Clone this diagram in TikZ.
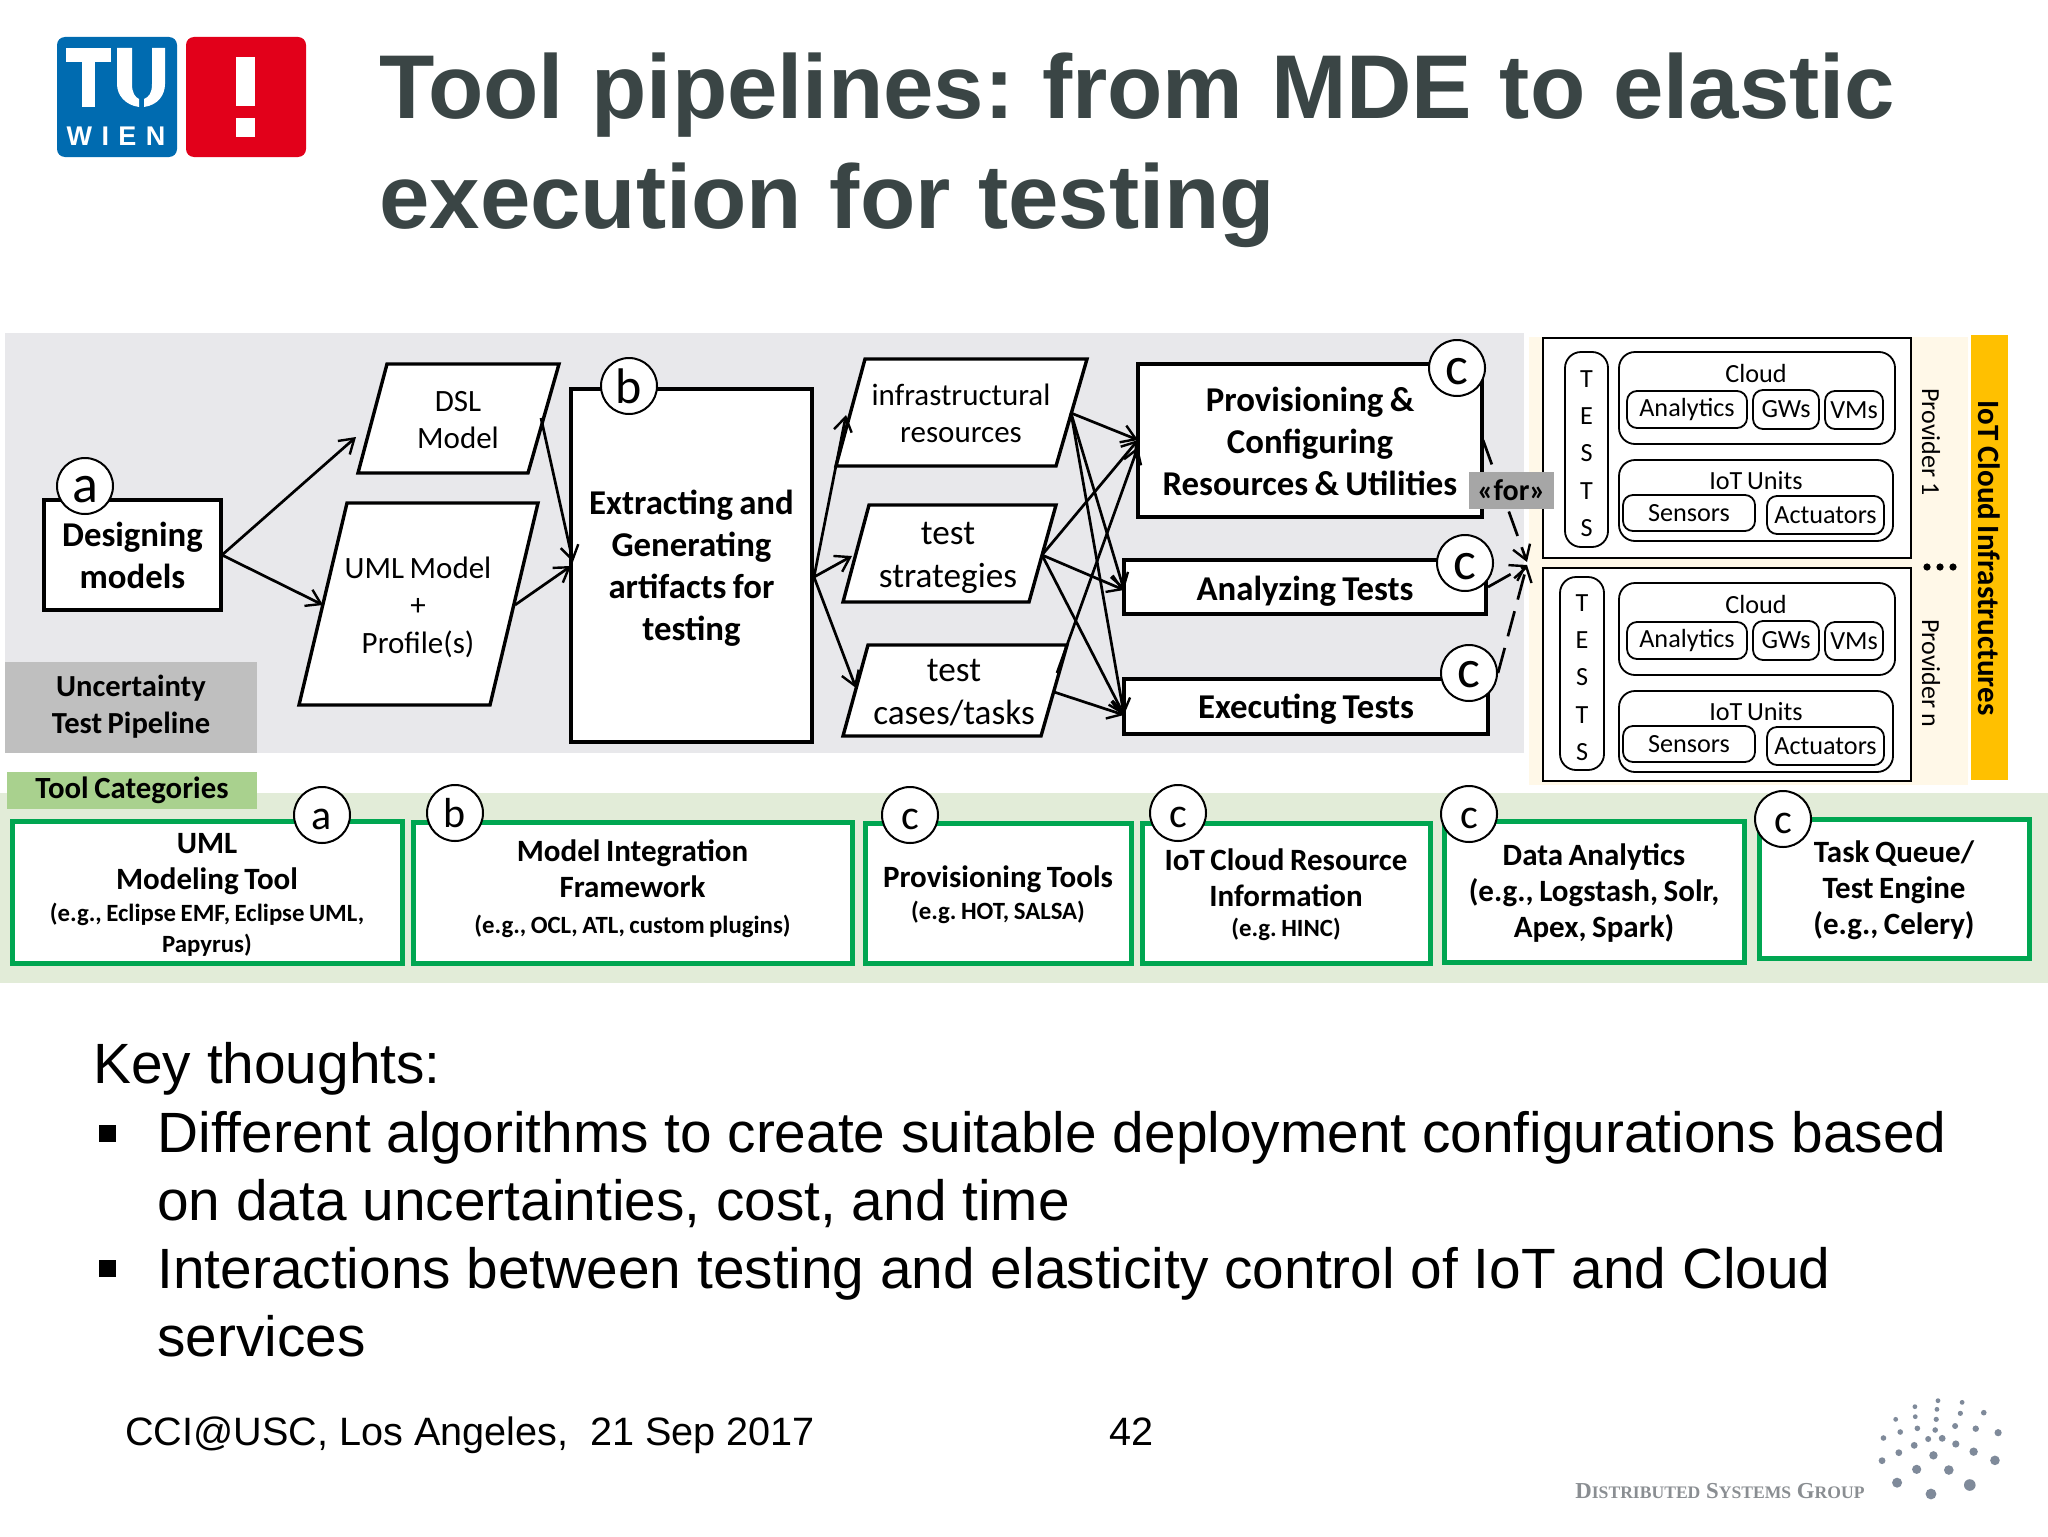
\documentclass[tikz,border=0pt]{standalone}
\usepackage{fontspec}
\setmainfont[WordSpace=0.8]{Carlito}
\newfontfamily\arial{Liberation Sans}
\newfontfamily\tms{Liberation Serif}
\usetikzlibrary{arrows.meta,calc}
\definecolor{bggray}{HTML}{E8E8EB}
\definecolor{labgray}{HTML}{BFBFBF}
\definecolor{forgray}{HTML}{A6A6A6}
\definecolor{labgreen}{HTML}{A9D18E}
\definecolor{bggreen}{HTML}{E2ECD8}
\definecolor{boxgreen}{HTML}{00A651}
\definecolor{cream}{HTML}{FFF8E8}
\definecolor{orangebar}{HTML}{FFC000}
\definecolor{tublue}{HTML}{006BB0}
\definecolor{tured}{HTML}{E2001A}
\definecolor{titlecol}{HTML}{3A4545}
\definecolor{dsg}{HTML}{8A8E92}
\definecolor{dsgdot}{HTML}{7F8A9A}
\newcommand\fs[2]{\fontsize{#1}{#2}\selectfont}
\newcommand\bx[5][]{%
  \path let \p1=(#3), \p2=(#4) in
    node[#1,minimum width={abs(\x2-\x1)},minimum height={abs(\y2-\y1)},inner sep=0pt,align=center]
    (#2) at ($(#3)!.5!(#4)$) {#5};}
% box with its text moved by a vertical offset: style, name, corners, offset, text style, text
\newcommand\bxt[7][]{%
  \bx[#1]{#2}{#3}{#4}{}
  \node[inner sep=0pt,align=center,#6] (#2-t) at ($(#2.center)+(0,#5)$) {#7};}
% letter lowered inside its badge: drop, box height, letter
\newcommand\lowr[3]{\raisebox{-#1}[#2][0pt]{#3}}
\tikzset{
  x=0.5pt,y=-0.5pt,
  every node/.append style={execute at begin node=\frenchspacing},
  flow/.style={draw=black,line width=1.8pt,fill=white},
  para/.style={draw=black,line width=1.7pt,fill=white,line join=miter},
  bflow/.style={font=\bfseries\fs{17.4}{21}},
  ptext/.style={font=\fs{15.5}{18.5},align=center,inner sep=0pt},
  badge/.style={circle,draw=black,line width=1pt,fill=white,minimum size=28pt,inner sep=0pt,font=\fs{27}{27}},
  tbadge/.style={circle,draw=black,line width=1pt,fill=white,minimum size=28pt,inner sep=0pt,font=\fs{21}{21}},
  arr/.style={draw=black,line width=1.35pt,-{Straight Barb[length=7pt,width=9pt,line width=1.2pt]}},
  darr/.style={arr,dash pattern=on 13pt off 6pt},
  tool/.style={draw=boxgreen,line width=2.5pt,fill=white},
  ttext/.style={font=\bfseries\fs{15.5}{18}},
  outer/.style={draw=black,line width=1.1pt,fill=white},
  rbox/.style={draw=black,line width=0.9pt,fill=white,rounded corners=8pt},
  ibox/.style={draw=black,line width=0.9pt,fill=white,rounded corners=5pt,font=\fs{13.1}{14}},
  plain/.style={inner sep=0pt,font=\fs{13.1}{14}},
  side/.style={inner sep=0pt,rotate=-90,font=\fs{13}{14}},
  body/.style={inner sep=0pt,font=\arial\fs{28.4}{34},align=left,anchor=base west},
  foot/.style={inner sep=0pt,font=\arial\fs{19.8}{24},anchor=base west},
  blt/.style={fill=black,minimum size=8.5pt,inner sep=0pt},
  tests/.style={inner sep=0pt,align=center,font=\fs{13.1}{18.7}},
}
\newcommand\sm{\fs{12.4}{15}}
\begin{document}
\begin{tikzpicture}
\useasboundingbox[fill=white] (0,0) rectangle (2048,1536);
% logo
\fill[tublue,rounded corners=4pt] (57,37) rectangle (177,157);
\fill[tured,rounded corners=4pt] (186,37) rectangle (306,157);
\fill[white] (66,48) rectangle (111,62);
\fill[white] (82,48) rectangle (95,107);
\fill[white] (117,48) -- (132,48) -- (132,84) .. controls (132,93) and (135,97) .. (139,99) -- (139,107) .. controls (125,105) and (117,95) .. (117,84) -- cycle;
\fill[white] (165,48) -- (152,48) -- (152,84) .. controls (152,93) and (149,97) .. (144,99) -- (144,107) .. controls (158,105) and (165,95) .. (165,84) -- cycle;
\node[inner sep=0pt,text=white,font=\arial\bfseries\fs{13.5}{14}] (wien) at (116,136) {W\hspace{4.7pt}I\hspace{4.7pt}E\hspace{4.7pt}N};
\fill[white] (236,57) rectangle (255,106);
\fill[white] (236,118) rectangle (255,137);
% title
\node[inner sep=0pt,text=titlecol,font=\arial\bfseries\fs{45.3}{55},text width=800pt,align=left,anchor=west] (title) at (379,150) {\spaceskip=.305em Tool pipelines: from MDE to elastic\\execution for testing};
% backgrounds
\fill[bggray] (5,333) rectangle (1524,753);
\fill[cream] (1529,337) rectangle (1968,785);
\fill[bggreen] (0,793) rectangle (2048,983);
\fill[orangebar] (1971,335) rectangle (2008,780);
\node[fill=labgray,minimum width=126pt,minimum height=45.5pt,inner sep=0pt,align=center,font=\bfseries\fs{15.3}{18.5}] (unc) at (131,707) {Uncertainty\\Test Pipeline};
\node[fill=labgreen,minimum width=125pt,minimum height=18.5pt,inner sep=0pt,font=\bfseries\fs{15.4}{18}] (cat) at (132,790) {Tool Categories};
% parallelograms
\draw[para] (387,364) -- (559,364) -- (528,473) -- (358,473) -- cycle;
\node[ptext] (dsl) at (458,420) {DSL\\Model};
\coordinate (dsl-l) at (356,437); \coordinate (dsl-r) at (541,418);
\draw[para] (347,503) -- (538,503) -- (490,705) -- (299,705) -- cycle;
\node[ptext] (uml) at (418,607) {UML Model\\[0.3pt]+\\[0.3pt]Profile(s)};
\coordinate (uml-l) at (323,605); \coordinate (uml-r) at (515,605);
\draw[para] (865,359) -- (1087,359) -- (1056,466) -- (836,466) -- cycle;
\node[ptext] (infra) at (961,413) {infrastructural\\resources};
\coordinate (infra-l) at (846,415); \coordinate (infra-r) at (1071,413);
\draw[para] (869,505) -- (1056,505) -- (1029,602) -- (843,602) -- cycle;
\node[ptext,font=\fs{17.6}{21.5}] (strat) at (948,558) {test\\strategies};
\coordinate (strat-l) at (852,556); \coordinate (strat-r) at (1042,555);
\draw[para] (868,645) -- (1067,645) -- (1041,736) -- (843,736) -- cycle;
\node[ptext,font=\fs{17.6}{21.5}] (cases) at (954,693) {test\\cases/tasks};
\coordinate (cases-l) at (856,688); \coordinate (cases-r) at (1054,692); \coordinate (cases-t) at (1057,673);
% process boxes
\bxt[flow]{des}{44,500}{221,610}{0}{bflow}{Designing\\models}
\bxt[flow]{ext}{571,389}{812,742}{3}{bflow}{Extracting and\\Generating\\artifacts for\\testing}
\bxt[flow]{prov}{1138,364}{1482,517}{1}{bflow}{Provisioning \&\\Configuring\\Resources \& Utilities}
\bxt[flow]{ana}{1124,560}{1486,614}{4}{bflow}{Analyzing Tests}
\bxt[flow]{exe}{1124,679}{1488,734}{3}{bflow}{Executing Tests}
\coordinate (prov-in) at (1138,440); \coordinate (prov-in2) at (1138,447);
\coordinate (ana-in) at (1124,590); \coordinate (exe-in) at (1124,715);
\coordinate (des-o) at (222,555); \coordinate (ext-i) at (573,562); \coordinate (ext-i2) at (571,566);
\coordinate (ext-o) at (814,577);
% arrows
\draw[arr] (des-o) -- (dsl-l);
\draw[arr] (des-o) -- (uml-l);
\draw[arr] (dsl-r) -- (ext-i);
\draw[arr] (uml-r) -- (ext-i2);
\draw[arr] (ext-o) -- (infra-l);
\draw[arr] (ext-o) -- (strat-l);
\draw[arr] (ext-o) -- (cases-l);
\draw[arr] (infra-r) -- (prov-in);
\draw[arr] (infra-r) -- (ana-in);
\draw[arr] (infra-r) -- (exe-in);
\draw[arr] (strat-r) -- (prov-in);
\draw[arr] (strat-r) -- (ana-in);
\draw[arr] (strat-r) -- (exe-in);
\draw[arr] (cases-t) -- (prov-in2);
\draw[arr] (cases-r) -- (exe-in);
% badges
\node[badge] (ba) at (85,486) {\lowr{2pt}{12.6pt}{a}};
\node[badge,font=\fs{25}{25}] (bb) at (629,386) {b};
\node[badge] (c1) at (1457,368) {\lowr{2pt}{12.6pt}{c}};
\node[badge] (c2) at (1465,563) {\lowr{2pt}{12.6pt}{c}};
\node[badge] (c3) at (1469,673) {\lowr{1pt}{12.6pt}{c}};
% provider panels
\bx[outer]{p1}{1543,338}{1911,558}{}
\bx[outer]{p2}{1543,568}{1911,781}{}
\coordinate (hub1) at (1527,562); \coordinate (hub2) at (1527,565);
\coordinate (prov-o) at (1483,440); \coordinate (ana-o) at (1488,587); \coordinate (exe-o) at (1498,673);
\draw[darr] (prov-o) -- (hub1);
\draw[darr] (ana-o) -- (hub2);
\draw[darr] (exe-o) -- (hub2);
\node[fill=forgray,minimum width=42.5pt,minimum height=18.5pt,inner sep=0pt,font=\bfseries\fs{15}{18}] (for) at (1511.5,490.5) {«for»};
\bxt[rbox]{t1}{1565,352}{1608,547}{4}{tests}{T\\E\\S\\T\\S}
\bxt[rbox]{t2}{1560,577}{1604,770}{4}{tests}{T\\E\\S\\T\\S}
\foreach \s/\dy in {u/0,v/231}{
  \bx[rbox]{cl\s}{1619,352+\dy}{1895,444+\dy}{}
  \node[plain] (cloud\s) at (1756,373+\dy) {Cloud};
  \bx[ibox]{an\s}{1627,391+\dy}{1747,428+\dy}{Analytics}
  \bx[ibox]{gw\s}{1753,390+\dy}{1819,429+\dy}{GWs}
  \bx[ibox]{vm\s}{1825,391+\dy}{1883,429+\dy}{VMs}
  \bx[rbox]{io\s}{1619,460+\dy}{1893,541+\dy}{}
  \node[plain] (iot\s) at (1756,481+\dy) {IoT Units};
  \bx[ibox]{se\s}{1623,495+\dy}{1755,531+\dy}{Sensors}
  \bx[ibox]{ac\s}{1767,496+\dy}{1884,534+\dy}{Actuators}
}
\node[side] (prov1) at (1931,442) {Provider 1};
\node[side] (provn) at (1931,673) {Provider n};
\node[fill=black,circle,inner sep=0pt,minimum size=3.6pt] (d1) at (1927,567) {};
\node[fill=black,circle,inner sep=0pt,minimum size=3.6pt] (d2) at (1940,567) {};
\node[fill=black,circle,inner sep=0pt,minimum size=3.6pt] (d3) at (1953,567) {};
\node[side,font=\bfseries\fs{15.5}{18}] (iotcloud) at (1989,558) {IoT Cloud Infrastructures};
% tool boxes
\bxt[tool]{ta}{12,821}{402,963}{3}{ttext}{UML\\Modeling Tool\\[-2pt]{\sm(e.g., Eclipse EMF, Eclipse UML,}\\[-2.5pt]{\sm Papyrus)}}
\bxt[tool]{tb}{413,822}{852,963}{-4}{ttext}{Model Integration\\Framework\\{\sm(e.g., OCL, ATL, custom plugins)}}
\bxt[tool]{tc}{865,823}{1131,963}{2}{ttext}{Provisioning Tools\\[-2pt]{\sm(e.g. HOT, SALSA)}}
\bxt[tool]{td}{1142,823}{1430,963}{2}{ttext}{IoT Cloud Resource\\Information\\[-3pt]{\sm(e.g. HINC)}}
\bxt[tool]{te}{1444,821}{1744,962}{2}{ttext}{Data Analytics\\(e.g., Logstash, Solr,\\Apex, Spark)}
\bxt[tool]{tf}{1759,819}{2029,958}{2}{ttext}{Task Queue/\\Test Engine\\(e.g., Celery)}
\node[tbadge] (ta-c) at (322,815) {\lowr{2.5pt}{9.8pt}{a}};
\node[tbadge] (tb-c) at (455,813) {b};
\node[tbadge] (tc-c) at (910,815) {\lowr{2.5pt}{9.8pt}{c}};
\node[tbadge] (td-c) at (1178,813) {\lowr{2.5pt}{9.8pt}{c}};
\node[tbadge] (te-c) at (1469,814) {\lowr{2.5pt}{9.8pt}{c}};
\node[tbadge] (tf-c) at (1783,819) {\lowr{2.5pt}{9.8pt}{c}};
% body
\node[body] (key) at (93,1083) {Key thoughts:};
\node[blt] (b1) at (107,1133) {};
\node[body] (l1) at (157,1220) {Different algorithms to create suitable deployment configurations based\\on data uncertainties, cost, and time};
\node[blt] (b2) at (107,1268) {};
\node[body] (l2) at (157,1356) {Interactions between testing and elasticity control of IoT and Cloud\\services};
\node[foot] (f1) at (125,1445) {CCI@USC, Los Angeles,\ \ 21 Sep 2017};
\node[foot] (f2) at (1109,1445) {42};
\node[inner sep=0pt,anchor=base west,text=dsg,font=\tms\bfseries\fs{11.4}{14}] (dsgt) at (1575,1498) {D{\fs{8.8}{14}ISTRIBUTED} S{\fs{8.8}{14}YSTEMS} G{\fs{8.8}{14}ROUP}};
\foreach \a/\b/\r in {1187/110/1.2,1253/92/1.2,1322/97/1.2,1250/118/1.2,1188/140/1.2,1317/130/1.3,1384/128/1.4,1132/148/1.2,1248/148/1.3,1302/168/1.5,1361/176/1.6,1425/188/1.8,1145/186/1.4,1194/175/1.4,1245/180/1.4,1097/204/1.4,1225/207/1.5,1265/205/1.7,1304/222/1.8,1185/226/1.7,1141/248/1.7,1355/245/2.1,1240/256/2.1,1093/272/1.7,1416/271/2.4,1192/298/2.3,1284/300/2.4,1136/338/2.5,1344/345/2.9,1233/372/2.7}{
  \fill[dsgdot] ({1500+\a/2.861},{1370+\b/3}) circle[radius=\r pt];
}
\end{tikzpicture}
\end{document}
